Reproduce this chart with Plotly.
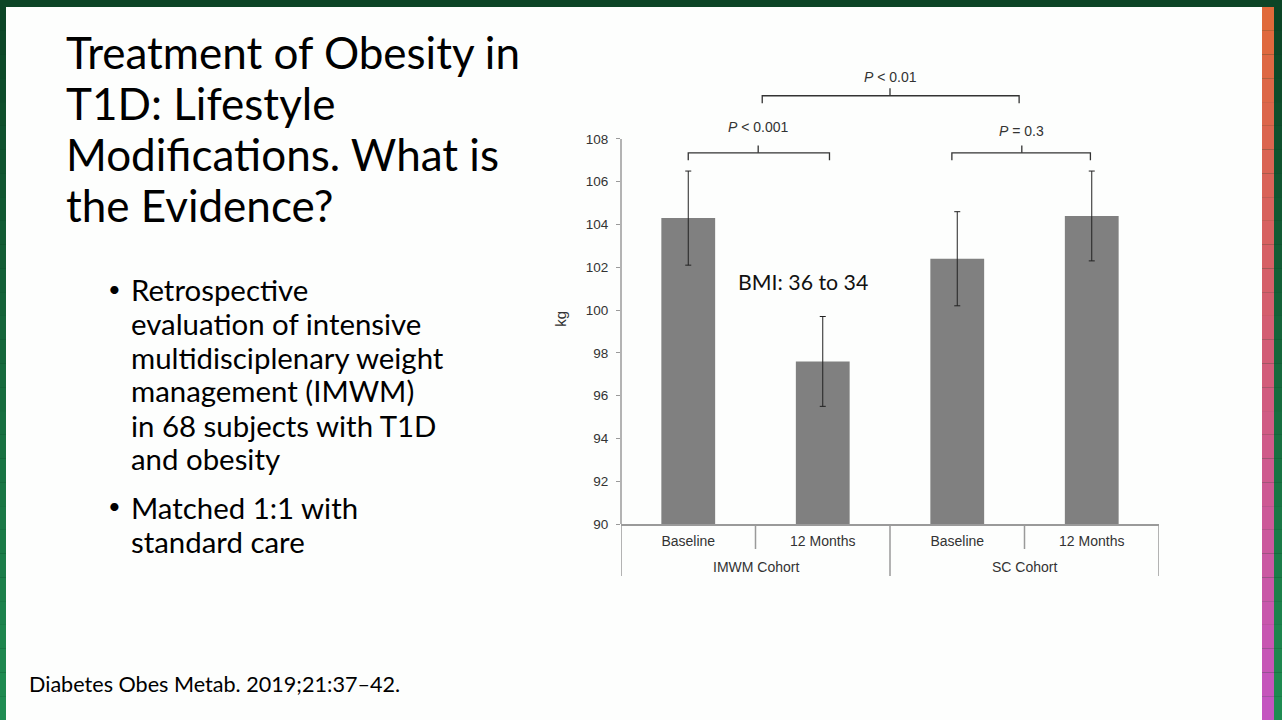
import plotly.graph_objects as go

# ---- data ----
categories = ["Baseline", "12 Months", "Baseline", "12 Months"]
cohorts = ["IMWM Cohort", "SC Cohort"]
weight_kg = [104.3, 97.6, 102.4, 104.4]
weight_err = [2.2, 2.1, 2.2, 2.1]
y_ticks = [90, 92, 94, 96, 98, 100, 102, 104, 106, 108]

p_labels = ["<i>P</i> < 0.001", "<i>P</i> = 0.3", "<i>P</i> < 0.01"]
p_label_y = [108.57, 108.37, 110.9]
bracket_left = [0.0, 1.96, 0.55]
bracket_right = [1.05, 2.99, 2.46]
bracket_mid = [0.52, 2.48, 1.5]
bracket_level = [107.35, 107.35, 110.02]

title_lines = ["Treatment of Obesity in", "T1D: Lifestyle",
               "Modifications. What is", "the Evidence?"]
bullet_lines = [("Retrospective", True), ("evaluation of intensive", False),
                ("multidisciplenary weight", False), ("management (IMWM)", False),
                ("in 68 subjects with T1D", False), ("and obesity", False),
                ("Matched 1:1 with", True), ("standard care", False)]
citation = "Diabetes Obes Metab. 2019;21:37–42."

W, H = 1282, 720
SLIDE_FONT = "Lato"
CHART_FONT = "Liberation Sans"


def px(x):
    return x / W


def py(y):
    return 1 - y / H


def mix(c1, c2, t):
    a = [int(c1[i:i + 2], 16) for i in (1, 3, 5)]
    b = [int(c2[i:i + 2], 16) for i in (1, 3, 5)]
    return "rgb(%d,%d,%d)" % tuple(round(a[k] + (b[k] - a[k]) * t) for k in range(3))


fig = go.Figure()

fig.add_trace(go.Bar(
    x=list(range(len(weight_kg))), y=weight_kg, width=0.4,
    marker=dict(color="#808080", line=dict(width=0)),
    error_y=dict(type="data", array=weight_err, color="#222222",
                 thickness=1, width=3),
    hoverinfo="skip", showlegend=False,
))

# significance brackets
for xl, xr, xm, lev in zip(bracket_left, bracket_right, bracket_mid, bracket_level):
    drop = 0.35
    fig.add_trace(go.Scatter(
        x=[xl, xl, xr, xr, None, xm, xm],
        y=[lev - drop, lev, lev, lev - drop, None, lev, lev + drop],
        mode="lines", line=dict(color="#333333", width=1.3),
        hoverinfo="skip", showlegend=False,
    ))

shapes = []
annotations = []

# slide frame
shapes.append(dict(type="rect", xref="paper", yref="paper", layer="below",
                   x0=px(6), x1=px(1262), y0=0, y1=py(7),
                   fillcolor="#fdfefd", line=dict(width=0)))
n = 30
for i in range(n):
    t = i / (n - 1)
    y0, y1 = py(7 + (H - 7) * i / n), py(7 + (H - 7) * (i + 1) / n)
    shapes.append(dict(type="rect", xref="paper", yref="paper", layer="below",
                       x0=0, x1=px(6), y0=y1, y1=y0,
                       fillcolor=mix("#0c4526", "#1f8c52", t), line=dict(width=0)))
    shapes.append(dict(type="rect", xref="paper", yref="paper", layer="below",
                       x0=px(1274), x1=1, y0=y1, y1=y0,
                       fillcolor=mix("#0c4526", "#1f8c52", t), line=dict(width=0)))
    col = mix("#e06a3a", "#d25c78", t * 2) if t < 0.5 else mix("#d25c78", "#c455c0", (t - 0.5) * 2)
    shapes.append(dict(type="rect", xref="paper", yref="paper", layer="below",
                       x0=px(1262), x1=px(1274), y0=y1, y1=y0,
                       fillcolor=col, line=dict(width=0)))

# y axis line (only up to 108)
shapes.append(dict(type="line", xref="x domain", yref="y", x0=0, x1=0,
                   y0=y_ticks[0], y1=y_ticks[-1],
                   line=dict(color="#9a9a9a", width=1.5)))
# category dividers below the x axis
for xv, long in [(-0.5, True), (0.5, False), (1.5, True), (2.5, False), (3.5, True)]:
    shapes.append(dict(type="line", xref="x", yref="paper", x0=xv, x1=xv,
                       y0=py(524), y1=py(576 if long else 549),
                       line=dict(color="#9a9a9a", width=1.5)))

for i, name in enumerate(cohorts):
    annotations.append(dict(text=name, x=2 * i + 0.5, xref="x", y=py(567), yref="paper",
                            showarrow=False, xanchor="center", yanchor="middle",
                            font=dict(family=CHART_FONT, size=14, color="#333333")))

for lab, xm, ly in zip(p_labels, bracket_mid, p_label_y):
    annotations.append(dict(text=lab, x=xm, xref="x", y=ly, yref="y",
                            showarrow=False, xanchor="center", yanchor="middle",
                            font=dict(family=CHART_FONT, size=14, color="#333333")))

annotations.append(dict(text="kg", x=px(561), xref="paper", y=99.6, yref="y",
                        textangle=-90, showarrow=False, xanchor="center", yanchor="middle",
                        font=dict(family=CHART_FONT, size=15, color="#333333")))
annotations.append(dict(text="BMI: 36 to 34", x=px(803), xref="paper", y=py(282), yref="paper",
                        showarrow=False, xanchor="center", yanchor="middle",
                        font=dict(family=SLIDE_FONT, size=21.3, color="#111111")))

# slide text
for i, line in enumerate(title_lines):
    annotations.append(dict(text=line, x=px(64), xref="paper", y=py(52 + 51 * i), yref="paper",
                            showarrow=False, xanchor="left", yanchor="middle",
                            font=dict(family=SLIDE_FONT, size=44, color="#000000")))
yb = 289
for i, (line, bullet) in enumerate(bullet_lines):
    if bullet and i > 0:
        yb += 14
    if bullet:
        annotations.append(dict(text="•", x=px(106), xref="paper", y=py(yb - 1), yref="paper",
                                showarrow=False, xanchor="left", yanchor="middle",
                                font=dict(family=SLIDE_FONT, size=22, color="#000000")))
    annotations.append(dict(text=line, x=px(129), xref="paper", y=py(yb), yref="paper",
                            showarrow=False, xanchor="left", yanchor="middle",
                            font=dict(family=SLIDE_FONT, size=29.4, color="#000000")))
    yb += 34
annotations.append(dict(text=citation, x=px(27), xref="paper", y=py(684), yref="paper",
                        showarrow=False, xanchor="left", yanchor="middle",
                        font=dict(family=SLIDE_FONT, size=21.6, color="#000000")))

fig.update_layout(
    width=W, height=H,
    margin=dict(l=0, r=0, t=0, b=0, pad=0, autoexpand=False),
    paper_bgcolor="#0c4526", plot_bgcolor="rgba(0,0,0,0)",
    shapes=shapes, annotations=annotations,
    xaxis=dict(domain=[px(621), px(1159)], range=[-0.5, 3.5], automargin=False,
               tickvals=list(range(len(categories))), ticktext=categories,
               showline=True, linecolor="#9a9a9a", linewidth=1.5,
               showgrid=False, zeroline=False, ticks="", ticklabelstandoff=3,
               tickfont=dict(family=CHART_FONT, size=14, color="#333333"),
               fixedrange=True),
    yaxis=dict(domain=[py(524), py(64.1)], range=[90, 111.5], automargin=False,
               tickvals=y_ticks, showline=False, showgrid=False, zeroline=False,
               ticks="outside", ticklen=4, tickcolor="#9a9a9a", tickwidth=1.2,
               ticklabelstandoff=5,
               tickfont=dict(family=CHART_FONT, size=13.5, color="#333333"),
               fixedrange=True),
)

# pin the figure to the top-left corner of the page
page_fix = ("document.body.style.margin='0';"
            "var gd=document.getElementById('{plot_id}');"
            "gd.style.position='fixed';gd.style.top='0';gd.style.left='0';")
fig.write_html("out.html", post_script=page_fix, config={"displayModeBar": False})
